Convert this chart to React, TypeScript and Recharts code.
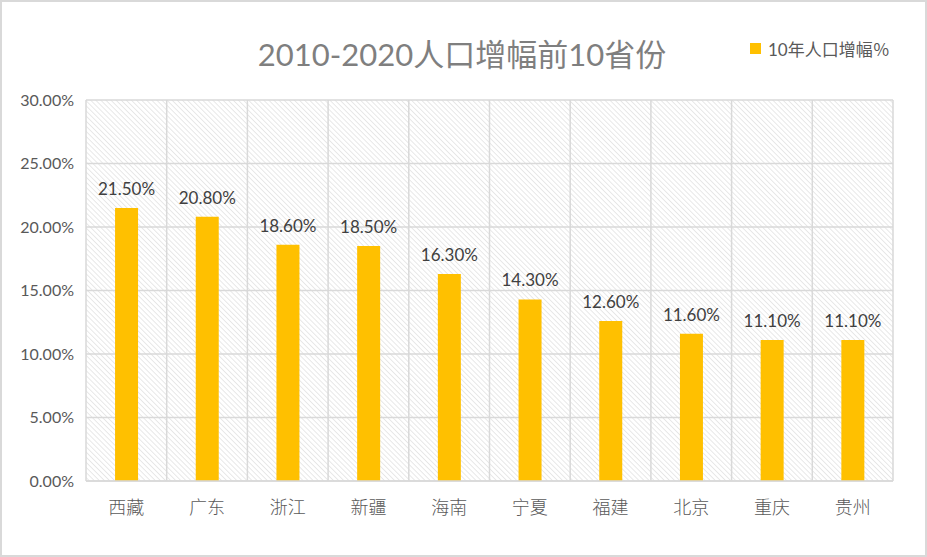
import React from 'react';
import {
  BarChart,
  Bar,
  XAxis,
  YAxis,
  CartesianGrid,
  LabelList,
} from 'recharts';

const provinces = ['西藏', '广东', '浙江', '新疆', '海南', '宁夏', '福建', '北京', '重庆', '贵州'];
const growth = [21.5, 20.8, 18.6, 18.5, 16.3, 14.3, 12.6, 11.6, 11.1, 11.1];
const yTicks = [0, 5, 10, 15, 20, 25, 30];
const seriesName = '10年人口增幅％';

const data = provinces.map((name, i) => ({ name, growth: growth[i] }));

const latin = 'Lato, "Noto Sans CJK SC", sans-serif';

// vertical grid lines sit on category boundaries, not centres
const boundaryLines = ({ offset }: any) => {
  const n = provinces.length;
  const out: number[] = [];
  for (let i = 0; i <= n; i++) out.push(offset.left + (offset.width * i) / n);
  return out;
};

export default function App() {
  return (
    <div
      style={{
        position: 'absolute',
        left: 0,
        top: 0,
        width: 927,
        height: 557,
        boxSizing: 'border-box',
        border: '2px solid #d9d9d9',
        background: '#fff',
        fontFamily: latin,
      }}
    >
      <div
        style={{
          position: 'absolute',
          left: 0,
          top: 28,
          width: 920,
          textAlign: 'center',
          fontSize: 31,
          color: '#7f7f7f',
          fontFamily: latin,
        }}
      >
        2010-2020人口增幅前10省份
      </div>
      <div
        style={{
          position: 'absolute',
          left: 748,
          top: 34,
          display: 'flex',
          alignItems: 'center',
          fontSize: 17,
          color: '#595959',
        }}
      >
        <span style={{ width: 11, height: 11, background: '#FFC000', marginRight: 7, display: 'inline-block' }} />
        <span>{seriesName}</span>
      </div>
      <BarChart
        width={923}
        height={553}
        data={data}
        margin={{ top: 98, right: 32, left: 0, bottom: 44 }}
        barCategoryGap="36%"
      >
        <defs>
          <pattern
            id="hatch"
            width="3.6"
            height="3.6"
            patternUnits="userSpaceOnUse"
            patternTransform="rotate(-45)"
          >
            <line x1="0" y1="0" x2="0" y2="3.6" stroke="#d2d2d2" strokeWidth="1" />
          </pattern>
        </defs>
        <CartesianGrid
          fill="url(#hatch)"
          stroke="#d9d9d9"
          strokeWidth={1.5}
          verticalCoordinatesGenerator={boundaryLines}
        />
        <XAxis
          dataKey="name"
          height={30}
          tickLine={false}
          axisLine={{ stroke: '#d9d9d9', strokeWidth: 1.5 }}
          tickMargin={14}
          tick={{ fontSize: 18, fill: '#595959', fontFamily: '"Noto Sans CJK SC"', fontWeight: 300 }}
        />
        <YAxis
          width={84}
          domain={[0, 30]}
          ticks={yTicks}
          tickLine={false}
          axisLine={false}
          tickSize={0}
          tickMargin={12}
          tickFormatter={(v) => `${v.toFixed(2)}%`}
          tick={{ fontSize: 16, fill: '#595959', fontFamily: latin }}
        />
        <Bar dataKey="growth" name={seriesName} fill="#FFC000" isAnimationActive={false}>
          <LabelList
            dataKey="growth"
            position="top"
            offset={13}
            formatter={(v: any) => `${Number(v).toFixed(2)}%`}
            style={{ fontSize: 17, fill: '#404040', fontFamily: latin }}
          />
        </Bar>
      </BarChart>
    </div>
  );
}
